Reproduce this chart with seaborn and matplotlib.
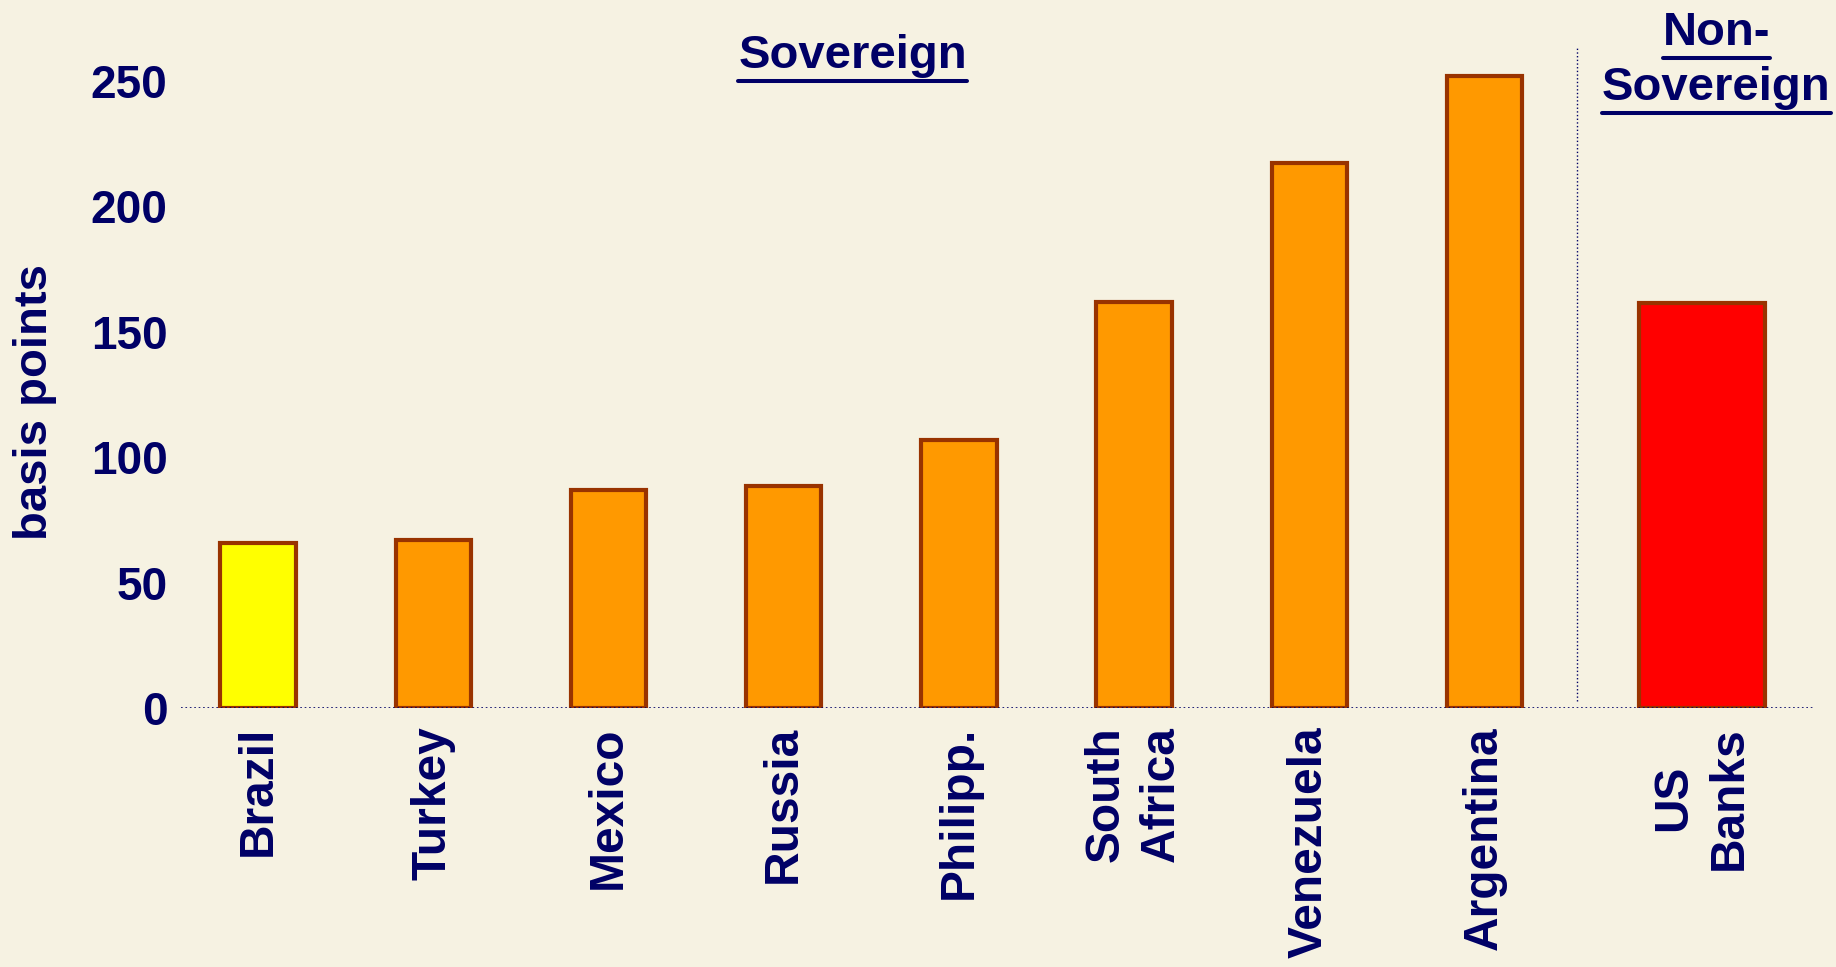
import pandas as pd
import numpy as np
import matplotlib.pyplot as plt
from matplotlib.lines import Line2D
import seaborn as sns

# spreads in basis points
countries = ["Brazil", "Turkey", "Mexico", "Russia", "Philipp.",
             "South\nAfrica", "Venezuela", "Argentina", "US\nBanks"]
spreads = [66, 67, 87, 88.5, 107, 162, 217.5, 252, 161.5]
bar_colors = ["#FFFF00", "#FF9900", "#FF9900", "#FF9900", "#FF9900",
              "#FF9900", "#FF9900", "#FF9900", "#FF0000"]
yticks = [0, 50, 100, 150, 200, 250]

navy = "#000066"
bg = "#F6F2E2"

df = pd.DataFrame({"name": countries, "bp": spreads})

sns.set_style("white", {"axes.facecolor": bg, "figure.facecolor": bg})
plt.rcParams["font.family"] = ["Liberation Sans", "DejaVu Sans"]

fig = plt.figure(figsize=(18.36, 9.67), dpi=100)
ax = fig.add_axes([0.0986, 0.2678, 0.8889, 0.7003])
ax.set_facecolor(bg)

sns.barplot(data=df, x="name", y="bp", hue="name",
            palette=dict(zip(countries, bar_colors)), legend=False,
            width=0.43, saturation=1, edgecolor="#993300", linewidth=3.0, ax=ax)

# the non-sovereign bar is wider and sits a bit further right
last = len(countries) - 1
shift = 0.24
for bar in ax.patches:
    if abs(bar.get_x() + bar.get_width() / 2 - last) < 0.01:
        bar.set_width(0.72)
        bar.set_x(last + shift - 0.36)

ticks = list(range(last)) + [last + shift]
ax.set_xticks(ticks, countries)
ax.set_xlim(-0.44, 8.876)
ax.set_ylim(0, 270)
ax.set_yticks(yticks)
sns.despine(ax=ax, left=True, bottom=True)
ax.tick_params(axis="both", length=0, colors=navy)
ax.tick_params(axis="y", pad=9.7)
ax.tick_params(axis="x", pad=13)
for lab in ax.get_yticklabels():
    lab.set_fontsize(33)
    lab.set_fontweight("bold")
for lab in ax.get_xticklabels():
    lab.set_fontsize(34.5)
    lab.set_fontweight("bold")
    lab.set_rotation(90)
    lab.set_linespacing(1.3)

ax.set_xlabel("")
ax.set_ylabel("basis points", fontsize=34, fontweight="bold", color=navy)
ax.yaxis.set_label_coords(-0.076, 0.452)

# dotted zero line and separator
ax.axhline(0, color=navy, ls=":", lw=1.2)
ax.vlines(7.53, 3, 263.5, color=navy, ls=":", lw=1.0)

# section headings (underlined)
head_kw = dict(ha="center", va="baseline", fontweight="bold", fontsize=34,
               color=navy, clip_on=False)
heads = [
    ax.text(3.394, 255.2, "Sovereign", **head_kw),
    ax.text(8.324, 264.4, "Non-", **head_kw),
    ax.text(8.324, 242.4, "Sovereign", **head_kw),
]

fig.canvas.draw()
inv = fig.transFigure.inverted()
for t in heads:
    bb = t.get_window_extent()
    yb = ax.transData.transform(t.get_position())[1] - 13
    p0 = inv.transform((bb.x0, yb))
    p1 = inv.transform((bb.x1, yb))
    fig.add_artist(Line2D([p0[0], p1[0]], [p0[1], p1[1]], color=navy, lw=2.9))

fig.savefig("out.png", dpi=100, facecolor=bg)
